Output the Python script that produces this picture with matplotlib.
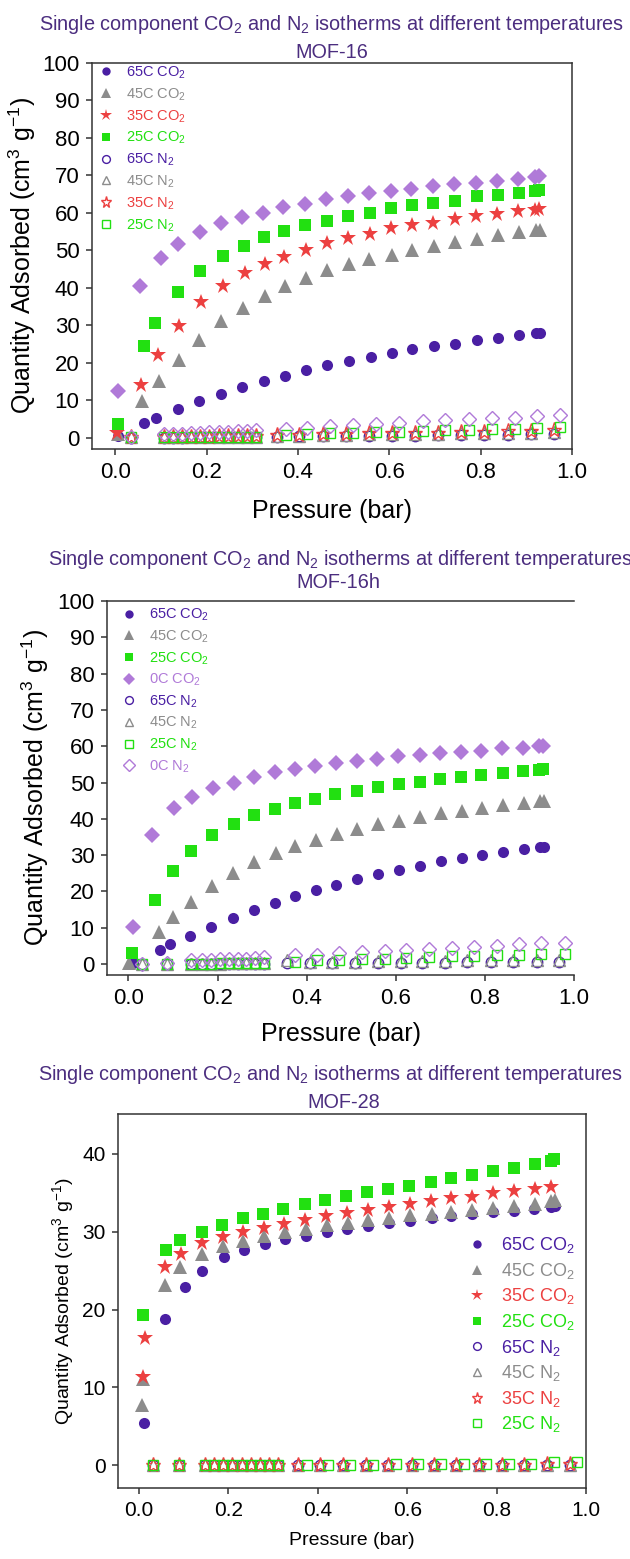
import matplotlib
matplotlib.use('Agg')
import matplotlib.pyplot as plt

plt.rcParams['font.family'] = ['Liberation Sans', 'DejaVu Sans']
plt.rcParams['mathtext.fontset'] = 'custom'
plt.rcParams['mathtext.rm'] = 'Liberation Sans'
plt.rcParams['mathtext.it'] = 'Liberation Sans'

# ---------------- MOF-16 ----------------
m16_co2_65_x = [0.005, 0.063, 0.090, 0.138, 0.184, 0.231, 0.277, 0.326, 0.371, 0.418, 0.464, 0.511, 0.559, 0.605, 0.650, 0.697, 0.744, 0.792, 0.839, 0.884, 0.921, 0.930]
m16_co2_65_y = [0.5, 4.0, 5.4, 7.6, 9.8, 11.8, 13.6, 15.1, 16.6, 18.1, 19.3, 20.5, 21.6, 22.6, 23.6, 24.4, 25.1, 26.0, 26.7, 27.3, 27.9, 28.0]
m16_co2_45_x = [0.005, 0.059, 0.096, 0.140, 0.184, 0.231, 0.280, 0.328, 0.371, 0.418, 0.463, 0.512, 0.556, 0.605, 0.650, 0.697, 0.744, 0.792, 0.839, 0.884, 0.921, 0.930]
m16_co2_45_y = [0.9, 9.8, 15.1, 20.8, 26.2, 31.1, 34.7, 37.8, 40.4, 42.7, 44.7, 46.4, 47.6, 48.9, 50.0, 51.3, 52.2, 53.1, 54.0, 54.9, 55.4, 55.5]
m16_co2_35_x = [0.003, 0.056, 0.094, 0.140, 0.187, 0.235, 0.283, 0.328, 0.370, 0.417, 0.463, 0.510, 0.557, 0.604, 0.650, 0.695, 0.743, 0.790, 0.836, 0.882, 0.919, 0.928]
m16_co2_35_y = [1.3, 14.2, 22.2, 29.8, 36.1, 40.6, 44.0, 46.4, 48.3, 50.2, 51.9, 53.3, 54.5, 55.9, 56.7, 57.4, 58.4, 59.2, 59.7, 60.4, 60.9, 61.1]
m16_co2_25_x = [0.006, 0.063, 0.088, 0.137, 0.185, 0.235, 0.281, 0.326, 0.369, 0.416, 0.463, 0.510, 0.557, 0.603, 0.649, 0.695, 0.744, 0.791, 0.838, 0.884, 0.918, 0.928]
m16_co2_25_y = [3.6, 24.4, 30.7, 39.0, 44.6, 48.4, 51.3, 53.6, 55.1, 56.8, 57.9, 59.2, 60.1, 61.2, 62.1, 62.7, 63.3, 64.4, 64.7, 65.3, 65.9, 66.0]
m16_co2_0_x = [0.007, 0.055, 0.100, 0.138, 0.186, 0.232, 0.278, 0.324, 0.368, 0.416, 0.462, 0.509, 0.556, 0.603, 0.648, 0.695, 0.742, 0.789, 0.835, 0.881, 0.918, 0.928]
m16_co2_0_y = [12.5, 40.4, 48.0, 51.7, 54.8, 57.2, 58.9, 60.1, 61.6, 62.5, 63.6, 64.4, 65.2, 65.9, 66.5, 67.2, 67.6, 68.1, 68.6, 69.1, 69.6, 69.8]

m16_n2_xa = [0.035, 0.107, 0.126, 0.146, 0.165, 0.186, 0.206, 0.226, 0.246, 0.268, 0.288, 0.309, 0.373, 0.419, 0.470, 0.520, 0.570, 0.621, 0.673, 0.723, 0.774, 0.824, 0.875, 0.924, 0.974]
m16_n2_xb = [0.035, 0.107, 0.126, 0.146, 0.165, 0.186, 0.206, 0.226, 0.246, 0.268, 0.288, 0.309, 0.354, 0.403, 0.455, 0.505, 0.556, 0.606, 0.657, 0.706, 0.757, 0.808, 0.859, 0.910, 0.961]
m16_n2_0_y = [0.2, 0.9, 0.9, 1.1, 1.2, 1.3, 1.5, 1.6, 1.6, 1.8, 1.9, 2.0, 2.4, 2.7, 3.2, 3.4, 3.7, 4.0, 4.4, 4.7, 4.9, 5.2, 5.4, 5.7, 6.1]
m16_n2_25_y = [0.1, 0.1, 0.1, 0.1, 0.2, 0.2, 0.2, 0.2, 0.3, 0.3, 0.3, 0.3, 0.8, 1.1, 1.3, 1.4, 1.6, 1.6, 1.8, 2.0, 2.2, 2.4, 2.4, 2.6, 2.8]
m16_n2_35_y = [0.3, 0.2, 0.2, 0.3, 0.3, 0.3, 0.3, 0.4, 0.4, 0.4, 0.4, 0.5, 0.8, 0.8, 1.1, 1.1, 1.3, 1.3, 1.4, 1.4, 1.6, 1.6, 1.8, 1.9, 2.0]
m16_n2_45_y = [0.1, 0.1, 0.1, 0.1, 0.1, 0.2, 0.2, 0.2, 0.2, 0.2, 0.3, 0.3, 0.5, 0.6, 0.7, 0.8, 0.9, 1.0, 1.0, 1.1, 1.2, 1.3, 1.3, 1.4, 1.5]
m16_n2_65_y = [0.0, 0.0, 0.0, 0.0, 0.1, 0.1, 0.1, 0.1, 0.1, 0.1, 0.1, 0.1, 0.3, 0.4, 0.4, 0.5, 0.5, 0.6, 0.6, 0.7, 0.7, 0.8, 0.8, 0.9, 1.0]

# ---------------- MOF-16h ----------------
m16h_co2_65_x = [0.010, 0.070, 0.093, 0.139, 0.186, 0.234, 0.282, 0.329, 0.374, 0.421, 0.467, 0.514, 0.560, 0.607, 0.655, 0.701, 0.748, 0.794, 0.841, 0.887, 0.924, 0.932]
m16h_co2_65_y = [0.4, 3.9, 5.4, 7.8, 10.3, 12.7, 15.0, 16.8, 18.7, 20.4, 21.9, 23.5, 24.8, 26.0, 27.1, 28.3, 29.1, 30.0, 30.9, 31.8, 32.2, 32.3]
m16h_co2_45_x = [0.002, 0.068, 0.099, 0.141, 0.188, 0.235, 0.283, 0.331, 0.374, 0.422, 0.468, 0.514, 0.561, 0.608, 0.655, 0.702, 0.748, 0.793, 0.841, 0.887, 0.924, 0.932]
m16h_co2_45_y = [0.4, 8.8, 13.1, 17.2, 21.4, 25.0, 28.0, 30.6, 32.6, 34.3, 35.9, 37.2, 38.5, 39.5, 40.4, 41.5, 42.2, 42.9, 43.7, 44.3, 44.8, 44.9]
m16h_co2_25_x = [0.008, 0.059, 0.099, 0.141, 0.188, 0.237, 0.282, 0.328, 0.373, 0.419, 0.463, 0.512, 0.560, 0.607, 0.654, 0.700, 0.746, 0.792, 0.840, 0.885, 0.922, 0.931]
m16h_co2_25_y = [3.0, 17.6, 25.6, 31.1, 35.6, 38.7, 41.0, 42.7, 44.3, 45.6, 46.9, 47.8, 48.8, 49.5, 50.2, 50.9, 51.6, 52.1, 52.7, 53.1, 53.5, 53.7]
m16h_co2_0_x = [0.011, 0.054, 0.103, 0.142, 0.190, 0.236, 0.282, 0.328, 0.374, 0.419, 0.467, 0.513, 0.559, 0.605, 0.655, 0.700, 0.746, 0.792, 0.839, 0.886, 0.922, 0.930]
m16h_co2_0_y = [10.2, 35.6, 42.9, 46.0, 48.5, 50.0, 51.4, 52.9, 53.7, 54.6, 55.3, 55.9, 56.6, 57.2, 57.7, 58.1, 58.5, 58.8, 59.4, 59.5, 60.0, 60.1]

m16h_n2_xa = [0.030, 0.087, 0.140, 0.165, 0.185, 0.205, 0.225, 0.245, 0.265, 0.285, 0.305, 0.374, 0.423, 0.472, 0.524, 0.575, 0.624, 0.675, 0.726, 0.776, 0.827, 0.877, 0.926, 0.979]
m16h_n2_xb = [0.030, 0.087, 0.140, 0.165, 0.185, 0.205, 0.225, 0.245, 0.265, 0.285, 0.305, 0.357, 0.408, 0.458, 0.509, 0.560, 0.611, 0.660, 0.710, 0.761, 0.813, 0.863, 0.916, 0.967]
m16h_n2_0_y = [0.0, 0.4, 1.0, 1.2, 1.2, 1.3, 1.4, 1.5, 1.5, 1.7, 1.9, 2.4, 2.6, 3.0, 3.3, 3.6, 3.9, 4.2, 4.5, 4.6, 5.0, 5.4, 5.7, 5.9]
m16h_n2_25_y = [0.0, 0.1, 0.1, 0.1, 0.1, 0.2, 0.2, 0.2, 0.3, 0.3, 0.3, 0.7, 1.0, 1.2, 1.4, 1.5, 1.7, 1.9, 2.1, 2.2, 2.4, 2.6, 2.7, 2.9]
m16h_n2_45_y = [0.0, 0.1, 0.1, 0.1, 0.1, 0.1, 0.2, 0.2, 0.2, 0.2, 0.2, 1.2, 0.7, 0.7, 0.7, 0.8, 0.8, 0.9, 0.9, 1.0, 1.0, 1.1, 1.1, 1.2]
m16h_n2_65_y = [0.0, 0.0, 0.0, 0.0, 0.0, 0.1, 0.1, 0.1, 0.1, 0.1, 0.1, 0.2, 0.2, 0.3, 0.3, 0.3, 0.4, 0.4, 0.4, 0.5, 0.5, 0.5, 0.6, 0.6]

# ---------------- MOF-28 ----------------
m28_co2_65_x = [0.011, 0.059, 0.102, 0.141, 0.190, 0.236, 0.281, 0.327, 0.374, 0.420, 0.466, 0.513, 0.560, 0.606, 0.655, 0.699, 0.746, 0.793, 0.839, 0.884, 0.922, 0.930]
m28_co2_65_y = [5.4, 18.8, 22.9, 25.0, 26.7, 27.7, 28.4, 29.0, 29.5, 30.0, 30.4, 30.7, 31.1, 31.4, 31.7, 32.0, 32.3, 32.5, 32.7, 32.9, 33.2, 33.3]
m28_co2_45_x = [0.007, 0.009, 0.059, 0.092, 0.141, 0.189, 0.233, 0.280, 0.327, 0.373, 0.420, 0.467, 0.513, 0.560, 0.607, 0.655, 0.699, 0.746, 0.793, 0.839, 0.887, 0.922, 0.930]
m28_co2_45_y = [7.8, 11.1, 23.2, 25.4, 27.1, 28.1, 28.8, 29.4, 29.9, 30.3, 30.8, 31.1, 31.5, 31.8, 32.1, 32.3, 32.5, 32.8, 33.1, 33.3, 33.6, 33.9, 34.0]
m28_co2_35_x = [0.009, 0.013, 0.059, 0.093, 0.142, 0.189, 0.233, 0.280, 0.325, 0.372, 0.419, 0.466, 0.512, 0.560, 0.606, 0.653, 0.699, 0.746, 0.793, 0.839, 0.885, 0.922]
m28_co2_35_y = [11.4, 16.3, 25.5, 27.1, 28.5, 29.3, 30.0, 30.5, 31.0, 31.5, 32.0, 32.4, 32.8, 33.2, 33.5, 33.9, 34.3, 34.5, 34.9, 35.2, 35.5, 35.7]
m28_co2_25_x = [0.009, 0.060, 0.092, 0.140, 0.186, 0.233, 0.278, 0.323, 0.371, 0.417, 0.464, 0.511, 0.557, 0.604, 0.653, 0.699, 0.746, 0.792, 0.838, 0.885, 0.922, 0.928]
m28_co2_25_y = [19.3, 27.6, 28.9, 30.0, 30.9, 31.7, 32.3, 32.9, 33.5, 34.0, 34.6, 35.1, 35.5, 35.9, 36.4, 36.9, 37.3, 37.8, 38.2, 38.7, 39.1, 39.3]

m28_n2_xa = [0.031, 0.089, 0.147, 0.168, 0.188, 0.209, 0.230, 0.250, 0.271, 0.291, 0.311, 0.376, 0.423, 0.473, 0.523, 0.574, 0.625, 0.676, 0.726, 0.777, 0.827, 0.878, 0.928, 0.979]
m28_n2_xb = [0.031, 0.089, 0.147, 0.168, 0.188, 0.209, 0.230, 0.250, 0.271, 0.291, 0.311, 0.355, 0.405, 0.457, 0.508, 0.558, 0.610, 0.659, 0.709, 0.761, 0.812, 0.862, 0.913, 0.964]
m28_n2_25_y = [0.0, 0.0, 0.0, 0.0, 0.0, 0.0, 0.0, 0.0, 0.0, 0.0, 0.0, 0.1, 0.1, 0.1, 0.1, 0.2, 0.2, 0.2, 0.2, 0.2, 0.2, 0.2, 0.4, 0.4]
m28_n2_35_y = [0.0, 0.0, 0.0, 0.0, 0.0, 0.0, 0.0, 0.0, 0.0, 0.0, 0.0, 0.0, 0.0, 0.0, 0.0, 0.0, 0.0, 0.1, 0.1, 0.1, 0.1, 0.1, 0.2, 0.2]
m28_n2_45_y = [0.0, 0.0, 0.0, 0.0, 0.0, 0.0, 0.0, 0.0, 0.0, 0.0, 0.0, 0.0, 0.0, 0.0, 0.0, 0.0, 0.0, 0.0, 0.1, 0.1, 0.1, 0.1, 0.1, 0.1]
m28_n2_65_y = [0.0, 0.0, 0.0, 0.0, 0.0, 0.0, 0.0, 0.0, 0.0, 0.0, 0.0, 0.0, 0.0, 0.0, 0.0, 0.0, 0.0, 0.0, 0.0, 0.0, 0.1, 0.1, 0.1, 0.1]

C65 = '#4a1fa3'
C45 = '#8c8c8c'
C35 = '#ec4040'
C25 = '#22e011'
C0 = '#b07ad8'
TITLE_C = '#4b2d7f'
CO2 = 'CO$_2$'
N2 = 'N$_2$'
TITLE = 'Single component CO$_2$ and N$_2$ isotherms at different temperatures'

W, H = 630, 1559
fig = plt.figure(figsize=(W / 100, H / 100), dpi=100)


def px_axes(l, t, r, b):
    return fig.add_axes([l / W, 1 - b / H, (r - l) / W, (b - t) / H])


def title(x1, y1, x2, y2, name):
    # two title lines, positions in picture pixels
    fig.text(x1 / W, 1 - y1 / H, TITLE, color=TITLE_C, fontsize=14.3,
             ha='center', va='center')
    fig.text(x2 / W, 1 - y2 / H, name, color=TITLE_C, fontsize=14.3,
             ha='center', va='center')


def style(ax, yticks, ylim, xlim, lab_fs, tick_fs, ylab_x, xlab_pad):
    ax.set_xlim(*xlim)
    ax.set_ylim(*ylim)
    ax.set_yticks(yticks)
    ax.set_xticks([0.0, 0.2, 0.4, 0.6, 0.8, 1.0])
    ax.set_xticklabels(['0.0', '0.2', '0.4', '0.6', '0.8', '1.0'])
    for s in ax.spines.values():
        s.set_color('#333333')
        s.set_linewidth(1.1)
    ax.tick_params(direction='out', length=4, width=1.1, color='#333333',
                   labelsize=tick_fs, pad=5)
    ax.set_ylabel('Quantity Adsorbed (cm$^3$ g$^{-1}$)', fontsize=lab_fs)
    ax.yaxis.set_label_coords(ylab_x, 0.5)
    ax.set_xlabel('Pressure (bar)', fontsize=lab_fs, labelpad=xlab_pad)


def filled(ax, x, y, m, c, ms, label):
    ax.plot(x, y, linestyle='none', marker=m, color=c, markersize=ms,
            markeredgewidth=0, label=label)


def hollow(ax, x, y, m, c, ms, label):
    ax.plot(x, y, linestyle='none', marker=m, markerfacecolor='none',
            markeredgecolor=c, markersize=ms, markeredgewidth=1.0, label=label)


def legend(ax, anchor, fs, spacing, tpad, cols):
    lg = ax.legend(loc='upper left', bbox_to_anchor=anchor, frameon=False, fontsize=fs,
                   handlelength=0.8, handletextpad=tpad, labelspacing=spacing,
                   borderaxespad=0, markerscale=0.75)
    for t, c in zip(lg.get_texts(), cols):
        t.set_color(c)


# panel 1: MOF-16
ax1 = px_axes(92, 63, 572, 449)
filled(ax1, m16_co2_65_x, m16_co2_65_y, 'o', C65, 8, '65C ' + CO2)
filled(ax1, m16_co2_45_x, m16_co2_45_y, '^', C45, 9.5, '45C ' + CO2)
filled(ax1, m16_co2_35_x, m16_co2_35_y, '*', C35, 12, '35C ' + CO2)
filled(ax1, m16_co2_25_x, m16_co2_25_y, 's', C25, 8, '25C ' + CO2)
hollow(ax1, m16_n2_xb, m16_n2_65_y, 'o', C65, 7.5, '65C ' + N2)
hollow(ax1, m16_n2_xb, m16_n2_45_y, '^', C45, 8.5, '45C ' + N2)
hollow(ax1, m16_n2_xb, m16_n2_35_y, '*', C35, 11, '35C ' + N2)
hollow(ax1, m16_n2_xa, m16_n2_25_y, 's', C25, 7.5, '25C ' + N2)
filled(ax1, m16_co2_0_x, m16_co2_0_y, 'D', C0, 8, '_nolegend_')
hollow(ax1, m16_n2_xa, m16_n2_0_y, 'D', C0, 7.5, '_nolegend_')
style(ax1, range(0, 101, 10), (-3, 100), (-0.051, 1.0), 18, 16, -0.112, 12)
legend(ax1, (0.005, 1.011), 10.5, 0.37, 0.97, [C65, C45, C35, C25] * 2)
title(331, 24, 332, 52, 'MOF-16')

# panel 2: MOF-16h
ax2 = px_axes(107, 601, 574, 975)
filled(ax2, m16h_co2_65_x, m16h_co2_65_y, 'o', C65, 8, '65C ' + CO2)
filled(ax2, m16h_co2_45_x, m16h_co2_45_y, '^', C45, 9.5, '45C ' + CO2)
filled(ax2, m16h_co2_25_x, m16h_co2_25_y, 's', C25, 8, '25C ' + CO2)
filled(ax2, m16h_co2_0_x, m16h_co2_0_y, 'D', C0, 8, '0C ' + CO2)
hollow(ax2, m16h_n2_xb, m16h_n2_65_y, 'o', C65, 7.5, '65C ' + N2)
hollow(ax2, m16h_n2_xb, m16h_n2_45_y, '^', C45, 8.5, '45C ' + N2)
hollow(ax2, m16h_n2_xa, m16h_n2_25_y, 's', C25, 7.5, '25C ' + N2)
hollow(ax2, m16h_n2_xa, m16h_n2_0_y, 'D', C0, 7.5, '0C ' + N2)
style(ax2, range(0, 101, 10), (-3, 100), (-0.048, 1.0), 18, 16, -0.12, 10)
ax2.spines['right'].set_visible(False)
legend(ax2, (0.022, 1.0), 10.5, 0.36, 0.97, [C65, C45, C25, C0] * 2)
title(340, 559, 338, 583, 'MOF-16h')

# panel 3: MOF-28
ax3 = px_axes(118, 1114, 586, 1488)
filled(ax3, m28_co2_65_x, m28_co2_65_y, 'o', C65, 8, '65C ' + CO2)
filled(ax3, m28_co2_45_x, m28_co2_45_y, '^', C45, 9.5, '45C ' + CO2)
filled(ax3, m28_co2_35_x, m28_co2_35_y, '*', C35, 12, '35C ' + CO2)
filled(ax3, m28_co2_25_x, m28_co2_25_y, 's', C25, 8, '25C ' + CO2)
hollow(ax3, m28_n2_xb, m28_n2_65_y, 'o', C65, 7.5, '65C ' + N2)
hollow(ax3, m28_n2_xb, m28_n2_45_y, '^', C45, 8.5, '45C ' + N2)
hollow(ax3, m28_n2_xb, m28_n2_35_y, '*', C35, 11, '35C ' + N2)
hollow(ax3, m28_n2_xa, m28_n2_25_y, 's', C25, 7.5, '25C ' + N2)
style(ax3, range(0, 41, 10), (-2.9, 45.1), (-0.047, 1.0), 14, 15, -0.09, 9)
legend(ax3, (0.736, 0.695), 13, 0.31, 0.93, [C65, C45, C35, C25] * 2)
title(330, 1075, 344, 1102, 'MOF-28')

fig.savefig('out.png', dpi=100)
